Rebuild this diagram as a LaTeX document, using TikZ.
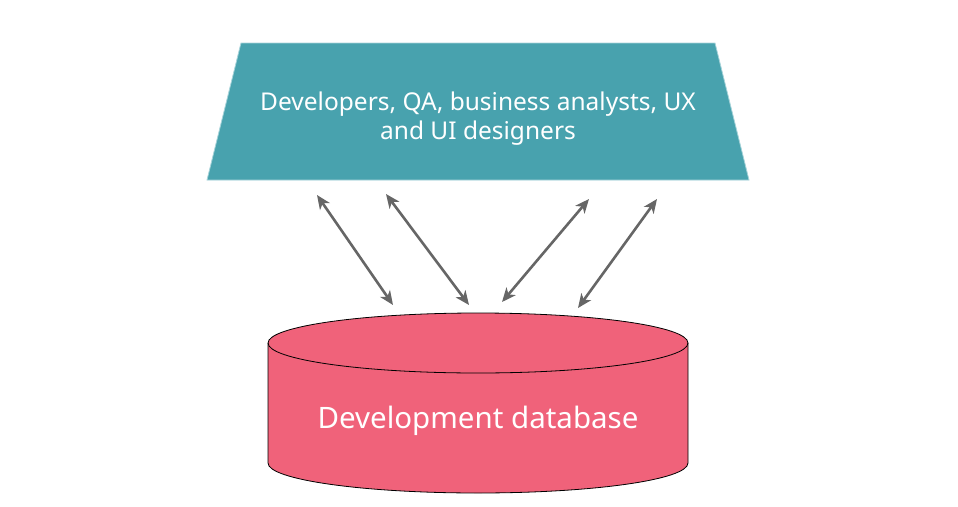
\documentclass[tikz,border=0pt]{standalone}
\usepackage{fontspec}
\setmainfont{Noto Sans}
\usetikzlibrary{arrows.meta}
\definecolor{teamteal}{HTML}{48A2AE}
\definecolor{teamedge}{HTML}{A6D3D9}
\definecolor{dbpink}{HTML}{F0627A}
\definecolor{linkgray}{HTML}{666666}

\begin{document}
\begin{tikzpicture}[x=1pt, y=-1pt,
  link/.style={linkgray, line width=2.6pt,
    {Stealth[length=14pt, width=12pt, inset=4pt]}-{Stealth[length=14pt, width=12pt, inset=4pt]}}]
  \useasboundingbox (0,0) rectangle (958,506);
  % team (trapezoid)
  \filldraw[fill=teamteal, draw=teamedge, line width=0.8pt]
    (241,43) -- (715,43) -- (749,180) -- (207,180) -- cycle;
  \node[text=white, align=center, font=\fontsize{24.5}{29}\selectfont] (team) at (478,119)
    {Developers, QA, business analysts, UX\\and UI designers};
  % development database (cylinder)
  \filldraw[fill=dbpink, draw=black, line width=0.8pt]
    (268,343) -- (268,463) arc[start angle=180, end angle=0, x radius=210, y radius=30]
    -- (688,343) arc[start angle=0, end angle=-180, x radius=210, y radius=30] -- cycle;
  \draw[black, line width=0.8pt] (268,343) arc[start angle=180, end angle=0, x radius=210, y radius=30];
  \node[text=white, font=\fontsize{29.5}{35}\selectfont] (db) at (478,421) {Development database};
  % arrow ends
  \coordinate (t1) at (317,195);
  \coordinate (b1) at (393,305);
  \coordinate (t2) at (386,194);
  \coordinate (b2) at (469,305);
  \coordinate (t3) at (589,199);
  \coordinate (b3) at (502,302);
  \coordinate (t4) at (657,199);
  \coordinate (b4) at (578,308);
  \foreach \i in {1,...,4}
    \draw[link] (t\i) -- (b\i);
\end{tikzpicture}
\end{document}
